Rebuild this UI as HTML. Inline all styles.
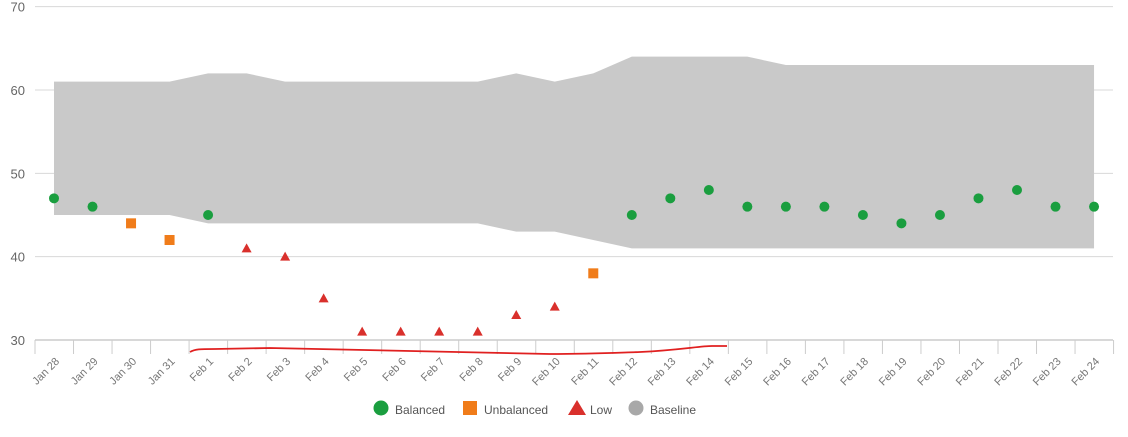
<!DOCTYPE html>
<html><head><meta charset="utf-8"><style>
html,body{margin:0;padding:0;background:#fff;width:1128px;height:437px;overflow:hidden}
svg{display:block;font-family:"Liberation Sans",sans-serif}
</style></head><body>
<svg id="s" width="1128" height="437" xmlns="http://www.w3.org/2000/svg"></svg>
<script>
const s=document.getElementById('s');
const X=i=>54+i*38.52, Y=v=>340-(v-30)*8.333;
let h='';
[70,60,50,40,30].forEach(v=>{h+=`<line x1="35" x2="1113" y1="${Y(v)}" y2="${Y(v)}" stroke="#d8d8d8" stroke-width="1"/>`;
h+=`<text x="25" y="${Y(v)+5}" text-anchor="end" font-size="13" fill="#666">${v}</text>`;});
const up=[61,61,61,61,62,62,61,61,61,61,61,61,62,61,62,64,64,64,64,63,63,63,63,63,63,63,63,63];
const lo=[45,45,45,45,44,44,44,44,44,44,44,44,43,43,42,41,41,41,41,41,41,41,41,41,41,41,41,41];
let p=up.map((v,i)=>X(i)+','+Y(v)).join(' ')+' '+lo.map((v,i)=>X(i)+','+Y(v)).reverse().join(' ');
h+=`<polygon points="${p}" fill="#c9c9c9"/>`;
h+=`<line x1="35" x2="1113" y1="340" y2="340" stroke="#ccc" stroke-width="1.5"/>`;
for(let i=0;i<=28;i++){const x=35+i*38.52;h+=`<line x1="${x}" x2="${x}" y1="340" y2="354" stroke="#ccc"/>`;}
const labs=['Jan 28','Jan 29','Jan 30','Jan 31','Feb 1','Feb 2','Feb 3','Feb 4','Feb 5','Feb 6','Feb 7','Feb 8','Feb 9','Feb 10','Feb 11','Feb 12','Feb 13','Feb 14','Feb 15','Feb 16','Feb 17','Feb 18','Feb 19','Feb 20','Feb 21','Feb 22','Feb 23','Feb 24'];
labs.forEach((l,i)=>{const x=X(i)+6,y=362;h+=`<text x="${x}" y="${y}" text-anchor="end" font-size="11" fill="#777" transform="rotate(-45 ${x} ${y})">${l}</text>`;});
h+=`<path d="M190,352 C195,349 200,349 215,349 L270,348 C350,349 450,352 550,354 C590,354 610,353 640,352 C680,350 700,346 712,346 L727,346" fill="none" stroke="#e02020" stroke-width="1.8"/>`;
const d=[[47,'g'],[46,'g'],[44,'o'],[42,'o'],[45,'g'],[41,'t'],[40,'t'],[35,'t'],[31,'t'],[31,'t'],[31,'t'],[31,'t'],[33,'t'],[34,'t'],[38,'o'],[45,'g'],[47,'g'],[48,'g'],[46,'g'],[46,'g'],[46,'g'],[45,'g'],[44,'g'],[45,'g'],[47,'g'],[48,'g'],[46,'g'],[46,'g']];
d.forEach(([v,t],i)=>{const x=X(i),y=Y(v);
if(t=='g')h+=`<circle cx="${x}" cy="${y}" r="5" fill="#1a9e3f"/>`;
else if(t=='o')h+=`<rect x="${x-5}" y="${y-5}" width="10" height="10" fill="#f07c1a"/>`;
else h+=`<polygon points="${x},${y-5} ${x+5},${y+4} ${x-5},${y+4}" fill="#d9302c"/>`;});
h+=`<circle cx="381" cy="408" r="7.5" fill="#1a9e3f"/><text x="395" y="414" font-size="12" fill="#555">Balanced</text>`;
h+=`<rect x="463" y="401" width="14" height="14" fill="#f07c1a"/><text x="484" y="414" font-size="12" fill="#555">Unbalanced</text>`;
h+=`<polygon points="577,400 586,415 568,415" fill="#d9302c"/><text x="590" y="414" font-size="12" fill="#555">Low</text>`;
h+=`<circle cx="636" cy="408" r="7.5" fill="#a8a8a8"/><text x="650" y="414" font-size="12" fill="#555">Baseline</text>`;
s.innerHTML=h;
</script>
</body></html>
